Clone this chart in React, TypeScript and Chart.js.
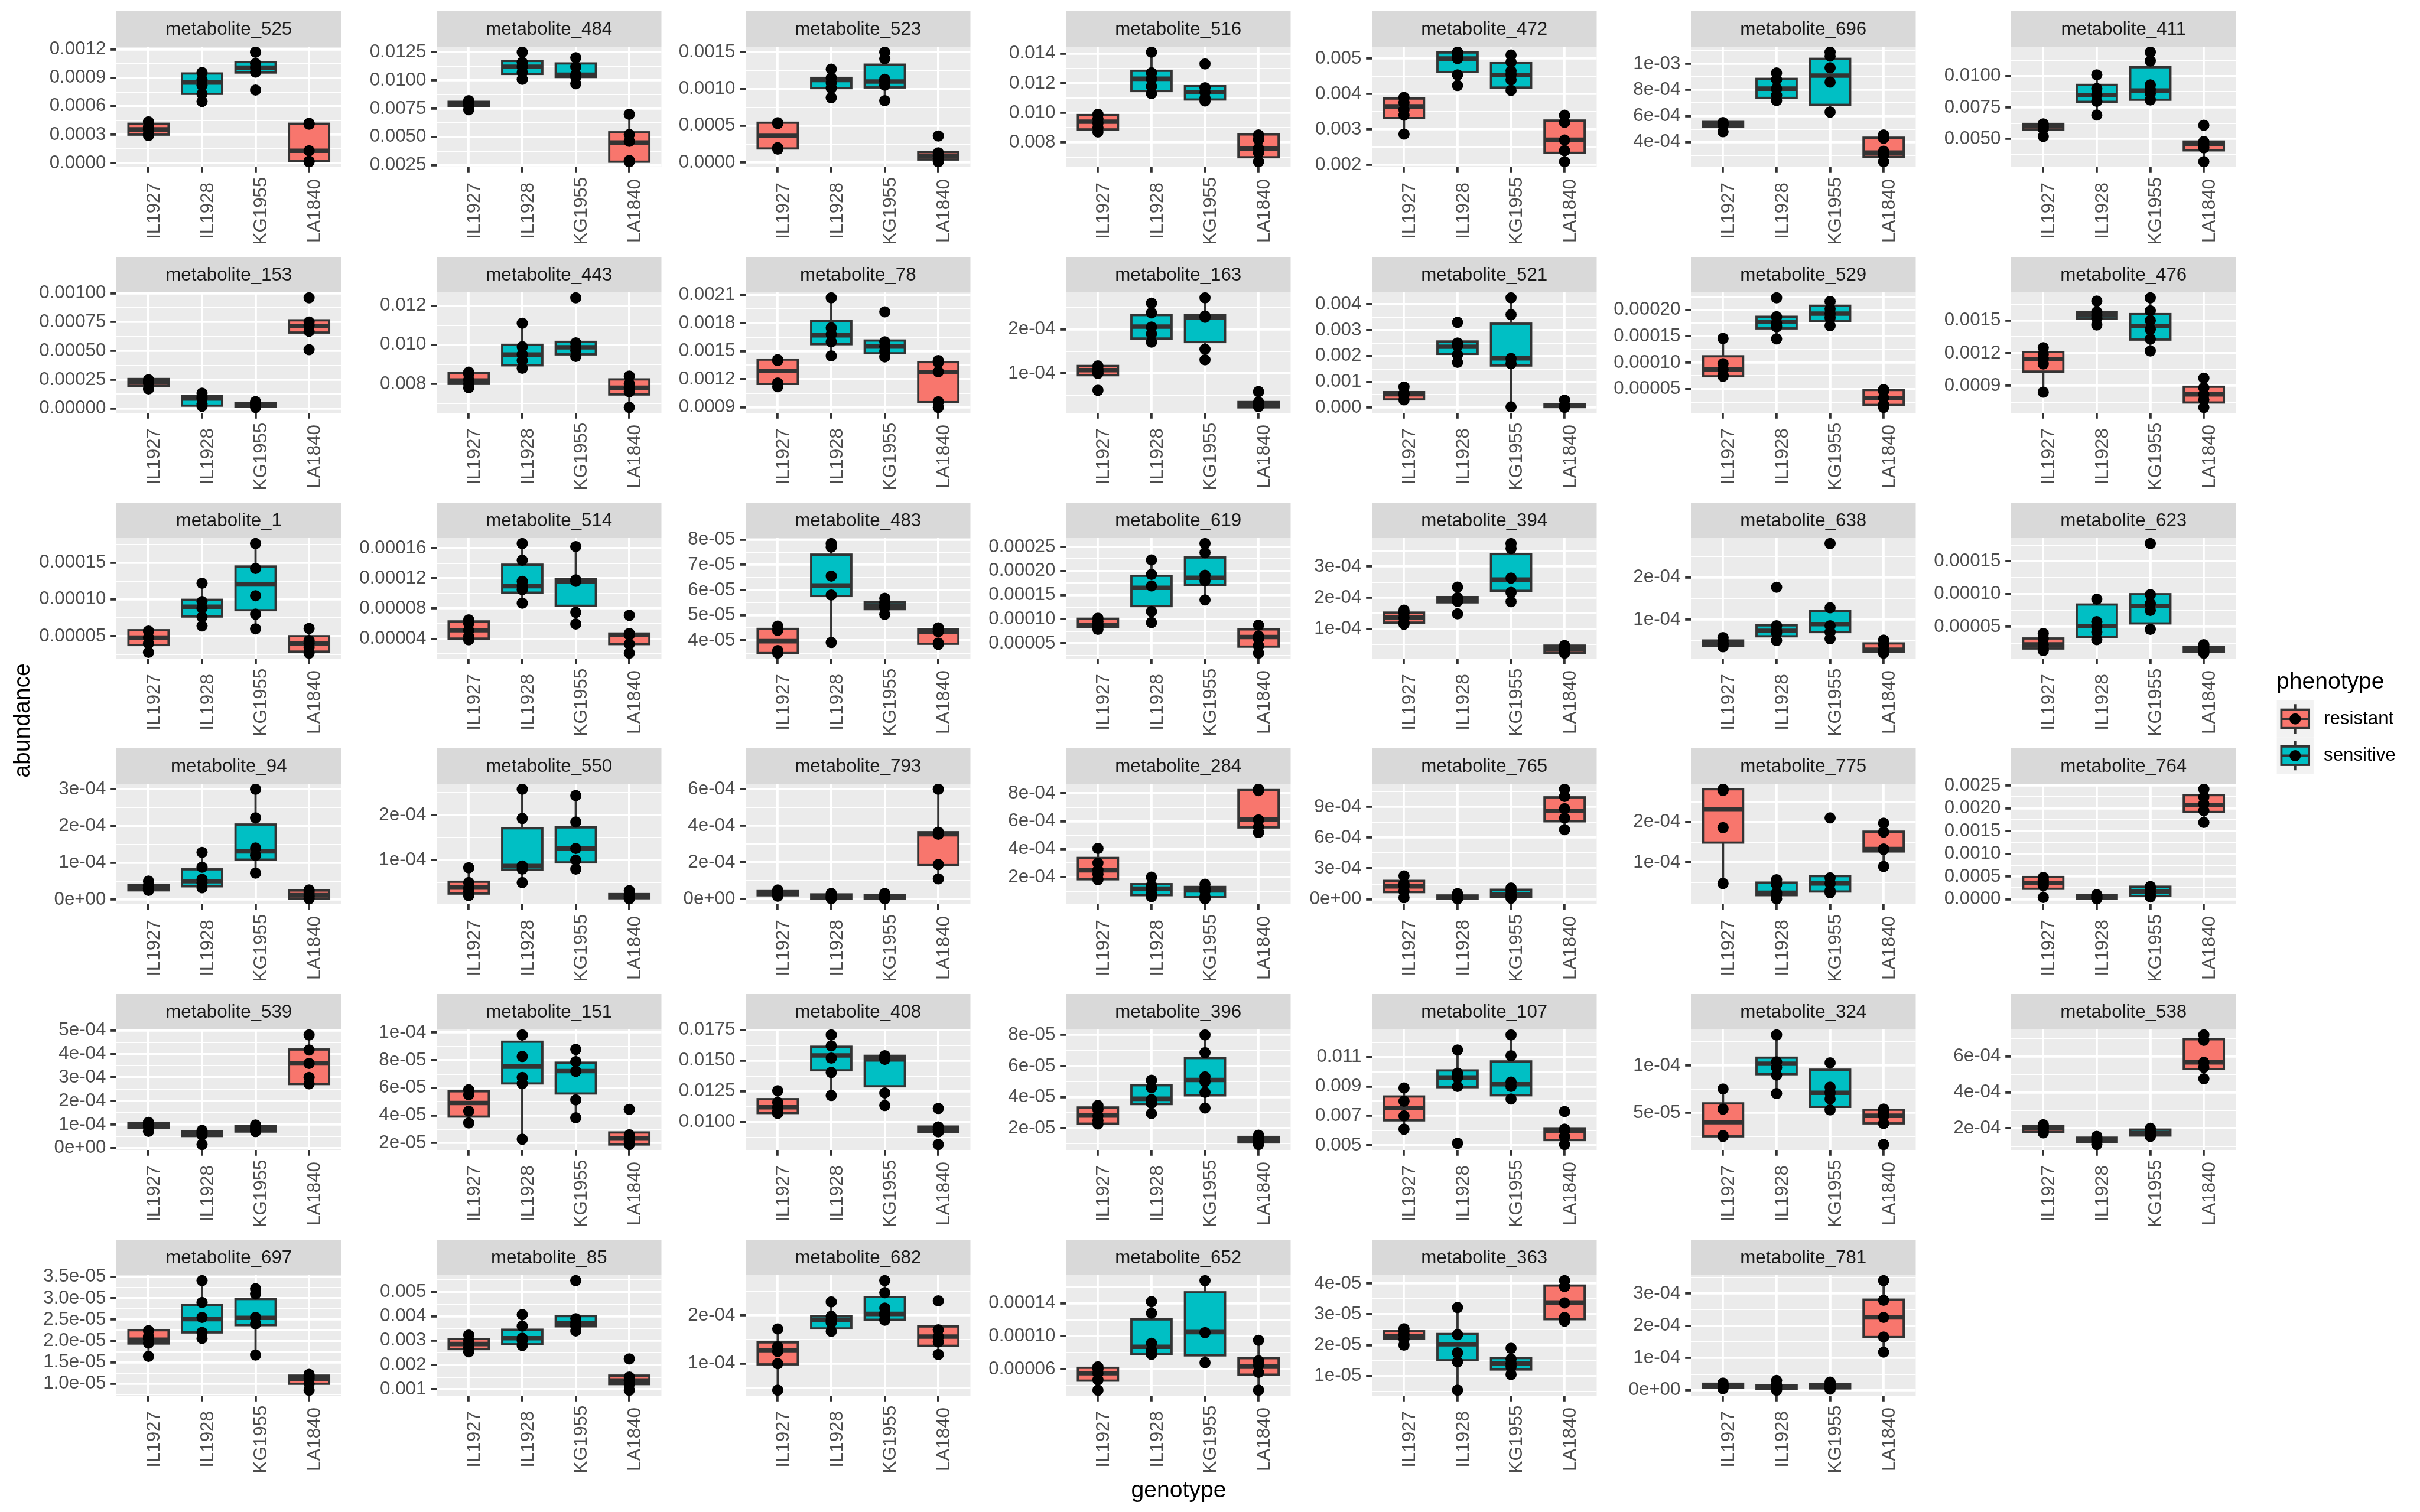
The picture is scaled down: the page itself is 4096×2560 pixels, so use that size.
import React, { useEffect, useRef } from 'react';
import { Chart, registerables } from 'chart.js';
Chart.register(...registerables);

// ---------------- data ----------------
const genotypes = ['IL1927', 'IL1928', 'KG1955', 'LA1840'];
const genotypePhenotype = ['resistant', 'sensitive', 'sensitive', 'resistant'];
const phenotypes = ['resistant', 'sensitive'];
const phenotypeColors = ['#F8766D', '#00BFC4'];

const panelNames = [
  'metabolite_525', 'metabolite_484', 'metabolite_523', 'metabolite_516', 'metabolite_472', 'metabolite_696', 'metabolite_411',
  'metabolite_153', 'metabolite_443', 'metabolite_78', 'metabolite_163', 'metabolite_521', 'metabolite_529', 'metabolite_476',
  'metabolite_1', 'metabolite_514', 'metabolite_483', 'metabolite_619', 'metabolite_394', 'metabolite_638', 'metabolite_623',
  'metabolite_94', 'metabolite_550', 'metabolite_793', 'metabolite_284', 'metabolite_765', 'metabolite_775', 'metabolite_764',
  'metabolite_539', 'metabolite_151', 'metabolite_408', 'metabolite_396', 'metabolite_107', 'metabolite_324', 'metabolite_538',
  'metabolite_697', 'metabolite_85', 'metabolite_682', 'metabolite_652', 'metabolite_363', 'metabolite_781',
];

const tickLabels = [
  ['0.0000', '0.0003', '0.0006', '0.0009', '0.0012'],
  ['0.0025', '0.0050', '0.0075', '0.0100', '0.0125'],
  ['0.0000', '0.0005', '0.0010', '0.0015'],
  ['0.008', '0.010', '0.012', '0.014'],
  ['0.002', '0.003', '0.004', '0.005'],
  ['4e-04', '6e-04', '8e-04', '1e-03'],
  ['0.0050', '0.0075', '0.0100'],
  ['0.00000', '0.00025', '0.00050', '0.00075', '0.00100'],
  ['0.008', '0.010', '0.012'],
  ['0.0009', '0.0012', '0.0015', '0.0018', '0.0021'],
  ['1e-04', '2e-04'],
  ['0.000', '0.001', '0.002', '0.003', '0.004'],
  ['0.00005', '0.00010', '0.00015', '0.00020'],
  ['0.0009', '0.0012', '0.0015'],
  ['0.00005', '0.00010', '0.00015'],
  ['0.00004', '0.00008', '0.00012', '0.00016'],
  ['4e-05', '5e-05', '6e-05', '7e-05', '8e-05'],
  ['0.00005', '0.00010', '0.00015', '0.00020', '0.00025'],
  ['1e-04', '2e-04', '3e-04'],
  ['1e-04', '2e-04'],
  ['0.00005', '0.00010', '0.00015'],
  ['0e+00', '1e-04', '2e-04', '3e-04'],
  ['1e-04', '2e-04'],
  ['0e+00', '2e-04', '4e-04', '6e-04'],
  ['2e-04', '4e-04', '6e-04', '8e-04'],
  ['0e+00', '3e-04', '6e-04', '9e-04'],
  ['1e-04', '2e-04'],
  ['0.0000', '0.0005', '0.0010', '0.0015', '0.0020', '0.0025'],
  ['0e+00', '1e-04', '2e-04', '3e-04', '4e-04', '5e-04'],
  ['2e-05', '4e-05', '6e-05', '8e-05', '1e-04'],
  ['0.0100', '0.0125', '0.0150', '0.0175'],
  ['2e-05', '4e-05', '6e-05', '8e-05'],
  ['0.005', '0.007', '0.009', '0.011'],
  ['5e-05', '1e-04'],
  ['2e-04', '4e-04', '6e-04'],
  ['1.0e-05', '1.5e-05', '2.0e-05', '2.5e-05', '3.0e-05', '3.5e-05'],
  ['0.001', '0.002', '0.003', '0.004', '0.005'],
  ['1e-04', '2e-04'],
  ['0.00006', '0.00010', '0.00014'],
  ['1e-05', '2e-05', '3e-05', '4e-05'],
  ['0e+00', '1e-04', '2e-04', '3e-04'],
];

// [lower whisker, Q1, median, Q3, upper whisker] for IL1927, IL1928, KG1955, LA1840
const boxStats = [
  [[2.9e-4, 3.0e-4, 3.55e-4, 4.15e-4, 4.35e-4], [6.5e-4, 7.3e-4, 8.5e-4, 9.45e-4, 9.55e-4], [9.55e-4, 9.55e-4, 1.006e-3, 1.065e-3, 1.17e-3], [0.15e-4, 0.2e-4, 1.3e-4, 4.15e-4, 4.2e-4]],
  [[0.0074, 0.0077, 0.00785, 0.0081, 0.0082], [0.0101, 0.01057, 0.0112, 0.01172, 0.0125], [0.0097, 0.0103, 0.0105, 0.0115, 0.0120], [0.0028, 0.0028, 0.0045, 0.0054, 0.0070]],
  [[1.8e-4, 1.9e-4, 3.6e-4, 5.4e-4, 5.4e-4], [8.8e-4, 1.01e-3, 1.12e-3, 1.15e-3, 1.27e-3], [8.4e-4, 1.02e-3, 1.10e-3, 1.33e-3, 1.50e-3], [0.1e-4, 0.4e-4, 0.9e-4, 1.4e-4, 1.4e-4]],
  [[0.0087, 0.00888, 0.0094, 0.00985, 0.0099], [0.0113, 0.01147, 0.0123, 0.01284, 0.0141], [0.0108, 0.0109, 0.0114, 0.0118, 0.0118], [0.0067, 0.0070, 0.0076, 0.00854, 0.00854]],
  [[0.00287, 0.00332, 0.00365, 0.00387, 0.0039], [0.00424, 0.00462, 0.0050, 0.00517, 0.00518], [0.0041, 0.00418, 0.00454, 0.00487, 0.0051], [0.00209, 0.00234, 0.00271, 0.00325, 0.0034]],
  [[4.8e-4, 5.2e-4, 5.35e-4, 5.55e-4, 5.55e-4], [7.2e-4, 7.39e-4, 8.1e-4, 8.85e-4, 9.3e-4], [6.3e-4, 6.86e-4, 9.1e-4, 1.039e-3, 1.09e-3], [2.5e-4, 2.88e-4, 3.2e-4, 4.34e-4, 4.55e-4]],
  [[0.0052, 0.00574, 0.0060, 0.0062, 0.0062], [0.0069, 0.00795, 0.0085, 0.0093, 0.0101], [0.0081, 0.00812, 0.00885, 0.0107, 0.0119], [0.0032, 0.0041, 0.0046, 0.0048, 0.0048]],
  [[1.7e-4, 1.96e-4, 2.25e-4, 2.56e-4, 2.6e-4], [0.2e-4, 0.25e-4, 0.87e-4, 1.09e-4, 1.33e-4], [0.1e-4, 0.14e-4, 0.36e-4, 0.5e-4, 0.6e-4], [6.59e-4, 6.59e-4, 7.17e-4, 7.65e-4, 7.65e-4]],
  [[0.0078, 0.0080, 0.00817, 0.00857, 0.0086], [0.0088, 0.00895, 0.0095, 0.0100, 0.0111], [0.0094, 0.00951, 0.00987, 0.01015, 0.0102], [0.0068, 0.00746, 0.0078, 0.00823, 0.0084]],
  [[0.00112, 0.00115, 0.00129, 0.00141, 0.00141], [0.00145, 0.001575, 0.00167, 0.001825, 0.00207], [0.00144, 0.001478, 0.00155, 0.001614, 0.00162], [0.0009, 0.000956, 0.001275, 0.001383, 0.0014]],
  [[0.96e-4, 0.96e-4, 1.075e-4, 1.17e-4, 1.17e-4], [1.71e-4, 1.79e-4, 2.06e-4, 2.32e-4, 2.59e-4], [1.31e-4, 1.71e-4, 2.27e-4, 2.32e-4, 2.71e-4], [0.234e-4, 0.234e-4, 0.29e-4, 0.355e-4, 0.355e-4]],
  [[0.0003, 0.00032, 0.00052, 0.0006, 0.0008], [0.00175, 0.00208, 0.00236, 0.00256, 0.00256], [0.00003, 0.00163, 0.00191, 0.00325, 0.00425], [0.00001, 0.00002, 0.00007, 0.00013, 0.00029]],
  [[7.4e-5, 7.4e-5, 8.7e-5, 11.2e-5, 14.6e-5], [14.5e-5, 16.5e-5, 17.7e-5, 18.7e-5, 18.8e-5], [17.0e-5, 17.85e-5, 19.3e-5, 20.8e-5, 21.6e-5], [1.5e-5, 1.97e-5, 3.3e-5, 4.8e-5, 4.9e-5]],
  [[0.00084, 0.00103, 0.001145, 0.00121, 0.00125], [0.00146, 0.00152, 0.00155, 0.00158, 0.00168], [0.00122, 0.001325, 0.00145, 0.00156, 0.00171], [0.0007, 0.000745, 0.00082, 0.00089, 0.00097]],
  [[2.8e-5, 3.79e-5, 4.81e-5, 5.81e-5, 5.81e-5], [6.4e-5, 7.67e-5, 9.0e-5, 9.95e-5, 12.2e-5], [6.0e-5, 8.53e-5, 12.05e-5, 14.47e-5, 17.6e-5], [2.7e-5, 2.9e-5, 4.0e-5, 5.0e-5, 6.05e-5]],
  [[3.85e-5, 4.02e-5, 5.13e-5, 6.29e-5, 6.5e-5], [8.7e-5, 10.1e-5, 10.95e-5, 13.8e-5, 16.6e-5], [5.95e-5, 8.36e-5, 11.6e-5, 11.9e-5, 16.2e-5], [2.1e-5, 3.29e-5, 4.5e-5, 4.69e-5, 4.69e-5]],
  [[3.5e-5, 3.5e-5, 3.97e-5, 4.46e-5, 4.57e-5], [3.92e-5, 5.76e-5, 6.18e-5, 7.4e-5, 7.84e-5], [5.03e-5, 5.24e-5, 5.38e-5, 5.51e-5, 5.67e-5], [3.85e-5, 3.87e-5, 4.35e-5, 4.45e-5, 4.5e-5]],
  [[7.9e-5, 8.33e-5, 8.82e-5, 10.09e-5, 10.2e-5], [9.3e-5, 12.7e-5, 16.5e-5, 19.0e-5, 22.3e-5], [14.0e-5, 17.1e-5, 18.6e-5, 22.8e-5, 25.7e-5], [2.96e-5, 4.3e-5, 6.3e-5, 7.88e-5, 8.75e-5]],
  [[1.15e-4, 1.2e-4, 1.36e-4, 1.52e-4, 1.6e-4], [1.85e-4, 1.85e-4, 1.94e-4, 2.02e-4, 2.02e-4], [1.87e-4, 2.22e-4, 2.58e-4, 3.4e-4, 3.74e-4], [0.22e-4, 0.23e-4, 0.35e-4, 0.46e-4, 0.46e-4]],
  [[0.35e-4, 0.367e-4, 0.43e-4, 0.5e-4, 0.57e-4], [0.5e-4, 0.6e-4, 0.73e-4, 0.86e-4, 0.86e-4], [0.54e-4, 0.7e-4, 0.89e-4, 1.2e-4, 1.28e-4], [0.2e-4, 0.23e-4, 0.28e-4, 0.43e-4, 0.51e-4]],
  [[1.35e-5, 1.68e-5, 2.3e-5, 3.21e-5, 3.98e-5], [3.04e-5, 3.42e-5, 5.1e-5, 8.39e-5, 9.2e-5], [4.6e-5, 5.51e-5, 8.19e-5, 9.97e-5, 9.97e-5], [0.98e-5, 1.17e-5, 1.56e-5, 1.89e-5, 2.27e-5]],
  [[0.25e-4, 0.25e-4, 0.32e-4, 0.39e-4, 0.5e-4], [0.32e-4, 0.36e-4, 0.5e-4, 0.82e-4, 1.28e-4], [0.72e-4, 1.085e-4, 1.31e-4, 2.04e-4, 3.0e-4], [0.02e-4, 0.03e-4, 0.12e-4, 0.246e-4, 0.26e-4]],
  [[0.21e-4, 0.256e-4, 0.39e-4, 0.52e-4, 0.83e-4], [0.5e-4, 0.79e-4, 0.87e-4, 1.71e-4, 2.58e-4], [0.8e-4, 0.95e-4, 1.26e-4, 1.73e-4, 2.44e-4], [0.14e-4, 0.152e-4, 0.2e-4, 0.245e-4, 0.32e-4]],
  [[0.15e-4, 0.2e-4, 0.31e-4, 0.43e-4, 0.49e-4], [0.02e-4, 0.02e-4, 0.13e-4, 0.25e-4, 0.3e-4], [0.01e-4, 0.01e-4, 0.08e-4, 0.2e-4, 0.3e-4], [1.1e-4, 1.85e-4, 3.54e-4, 3.65e-4, 6.0e-4]],
  [[1.82e-4, 1.84e-4, 2.49e-4, 3.37e-4, 4.05e-4], [0.6e-4, 0.7e-4, 1.17e-4, 1.49e-4, 2.0e-4], [0.44e-4, 0.56e-4, 1.05e-4, 1.29e-4, 1.49e-4], [5.2e-4, 5.56e-4, 6.12e-4, 8.24e-4, 8.3e-4]],
  [[0.16e-4, 0.7e-4, 1.26e-4, 1.79e-4, 2.28e-4], [0.05e-4, 0.05e-4, 0.2e-4, 0.375e-4, 0.55e-4], [0.1e-4, 0.21e-4, 0.49e-4, 0.93e-4, 1.1e-4], [6.77e-4, 7.58e-4, 8.59e-4, 9.91e-4, 10.7e-4]],
  [[0.48e-4, 1.49e-4, 2.32e-4, 2.81e-4, 2.81e-4], [0.1e-4, 0.19e-4, 0.25e-4, 0.5e-4, 0.57e-4], [0.25e-4, 0.28e-4, 0.48e-4, 0.66e-4, 0.66e-4], [0.9e-4, 1.27e-4, 1.33e-4, 1.76e-4, 1.97e-4]],
  [[0.00004, 0.00023, 0.00036, 0.00049, 0.00049], [0.00001, 0.00001, 0.00005, 0.00009, 0.0001], [0.00005, 0.00007, 0.00017, 0.000276, 0.00028], [0.00169, 0.00192, 0.00207, 0.00229, 0.00242]],
  [[0.71e-4, 0.85e-4, 0.96e-4, 1.07e-4, 1.09e-4], [0.51e-4, 0.51e-4, 0.62e-4, 0.71e-4, 0.75e-4], [0.7e-4, 0.7e-4, 0.82e-4, 0.94e-4, 0.98e-4], [2.72e-4, 2.72e-4, 3.6e-4, 4.19e-4, 4.81e-4]],
  [[3.46e-5, 3.92e-5, 4.9e-5, 5.75e-5, 5.86e-5], [2.28e-5, 6.32e-5, 7.54e-5, 9.34e-5, 9.83e-5], [3.83e-5, 5.59e-5, 7.21e-5, 7.82e-5, 8.78e-5], [1.9e-5, 1.9e-5, 2.33e-5, 2.77e-5, 2.77e-5]],
  [[0.0107, 0.01073, 0.0112, 0.01186, 0.01255], [0.01216, 0.01421, 0.01542, 0.01613, 0.01709], [0.01134, 0.01291, 0.0151, 0.01539, 0.0154], [0.00919, 0.00919, 0.00943, 0.00963, 0.00963]],
  [[2.27e-5, 2.29e-5, 2.81e-5, 3.33e-5, 3.46e-5], [2.94e-5, 3.55e-5, 3.89e-5, 4.76e-5, 5.08e-5], [3.3e-5, 4.11e-5, 5.1e-5, 6.51e-5, 8.0e-5], [0.95e-5, 1.08e-5, 1.26e-5, 1.44e-5, 1.55e-5]],
  [[0.0061, 0.0067, 0.00753, 0.00832, 0.0089], [0.0089, 0.00895, 0.00961, 0.01009, 0.01148], [0.00815, 0.0084, 0.00915, 0.0107, 0.0125], [0.00506, 0.00536, 0.00599, 0.00616, 0.00616]],
  [[2.53e-5, 2.53e-5, 4.02e-5, 6.01e-5, 7.54e-5], [7.05e-5, 9.09e-5, 10.2e-5, 10.84e-5, 13.24e-5], [5.32e-5, 5.64e-5, 7.13e-5, 9.57e-5, 10.3e-5], [3.9e-5, 3.9e-5, 4.7e-5, 5.34e-5, 5.41e-5]],
  [[1.75e-4, 1.8e-4, 2.0e-4, 2.14e-4, 2.2e-4], [1.1e-4, 1.25e-4, 1.36e-4, 1.48e-4, 1.55e-4], [1.55e-4, 1.6e-4, 1.74e-4, 1.93e-4, 2.0e-4], [4.76e-4, 5.3e-4, 5.67e-4, 6.96e-4, 7.2e-4]],
  [[1.64e-5, 1.94e-5, 2.03e-5, 2.25e-5, 2.25e-5], [2.06e-5, 2.2e-5, 2.51e-5, 2.84e-5, 3.41e-5], [1.67e-5, 2.37e-5, 2.54e-5, 2.98e-5, 3.22e-5], [0.85e-5, 1.0e-5, 1.12e-5, 1.19e-5, 1.22e-5]],
  [[0.00254, 0.00265, 0.00286, 0.00307, 0.00323], [0.0028, 0.00285, 0.0031, 0.00345, 0.00407], [0.0034, 0.00359, 0.00373, 0.00401, 0.00401], [0.00096, 0.00121, 0.00136, 0.00156, 0.00156]],
  [[0.45e-4, 0.985e-4, 1.28e-4, 1.44e-4, 1.72e-4], [1.67e-4, 1.73e-4, 1.9e-4, 1.98e-4, 2.28e-4], [1.9e-4, 1.91e-4, 2.03e-4, 2.38e-4, 2.72e-4], [1.19e-4, 1.37e-4, 1.56e-4, 1.77e-4, 1.77e-4]],
  [[3.44e-5, 4.6e-5, 5.5e-5, 6.16e-5, 6.27e-5], [7.8e-5, 7.8e-5, 8.71e-5, 12.04e-5, 14.2e-5], [6.8e-5, 7.67e-5, 10.5e-5, 15.33e-5, 16.75e-5], [3.44e-5, 5.33e-5, 6.3e-5, 7.33e-5, 9.5e-5]],
  [[2.0e-5, 2.2e-5, 2.3e-5, 2.45e-5, 2.53e-5], [0.54e-5, 1.51e-5, 2.03e-5, 2.36e-5, 3.22e-5], [1.05e-5, 1.21e-5, 1.4e-5, 1.58e-5, 1.9e-5], [2.78e-5, 2.84e-5, 3.38e-5, 3.93e-5, 4.09e-5]],
  [[0.05e-4, 0.07e-4, 0.14e-4, 0.2e-4, 0.22e-4], [0.0, 0.03e-4, 0.1e-4, 0.15e-4, 0.3e-4], [0.03e-4, 0.055e-4, 0.125e-4, 0.18e-4, 0.25e-4], [1.18e-4, 1.65e-4, 2.26e-4, 2.81e-4, 3.4e-4]],
];

// individual observations for IL1927, IL1928, KG1955, LA1840
const pointValues = [
  [[2.9e-4, 3.05e-4, 3.55e-4, 3.8e-4, 4.35e-4], [6.5e-4, 7.3e-4, 8.2e-4, 8.8e-4, 9.55e-4], [7.7e-4, 9.6e-4, 1.01e-3, 1.05e-3, 1.17e-3], [0.15e-4, 0.2e-4, 1.3e-4, 4.1e-4, 4.2e-4]],
  [[0.0074, 0.0078, 0.00785, 0.0081, 0.0082], [0.0101, 0.0107, 0.0112, 0.0116, 0.0125], [0.0097, 0.0103, 0.0105, 0.0112, 0.0120], [0.0028, 0.0029, 0.0046, 0.0052, 0.0070]],
  [[1.8e-4, 2.0e-4, 5.3e-4, 5.4e-4], [8.8e-4, 1.01e-3, 1.08e-3, 1.15e-3, 1.27e-3], [8.4e-4, 1.05e-3, 1.10e-3, 1.13e-3, 1.41e-3, 1.50e-3], [0.1e-4, 0.5e-4, 0.9e-4, 1.3e-4, 3.6e-4]],
  [[0.0087, 0.0090, 0.0093, 0.0096, 0.0099], [0.0113, 0.0118, 0.0123, 0.0127, 0.0141], [0.0108, 0.0110, 0.0114, 0.0117, 0.0133], [0.0067, 0.0073, 0.0076, 0.0082, 0.0085]],
  [[0.00287, 0.0034, 0.00355, 0.00375, 0.0039], [0.00424, 0.00454, 0.0050, 0.0051, 0.00518], [0.0041, 0.0044, 0.00455, 0.00465, 0.0049, 0.0051], [0.00209, 0.0024, 0.0027, 0.0032, 0.0034]],
  [[4.8e-4, 5.3e-4, 5.4e-4, 5.5e-4], [7.2e-4, 7.6e-4, 8.1e-4, 8.8e-4, 9.3e-4], [6.3e-4, 8.6e-4, 9.7e-4, 1.06e-3, 1.09e-3], [2.5e-4, 3.0e-4, 3.3e-4, 4.3e-4, 4.55e-4]],
  [[0.0052, 0.0058, 0.0060, 0.0062], [0.0069, 0.0080, 0.0085, 0.0090, 0.0101], [0.0081, 0.0086, 0.0089, 0.0093, 0.0112, 0.0119], [0.0032, 0.0043, 0.0046, 0.0048, 0.0061]],
  [[1.7e-4, 2.2e-4, 2.3e-4, 2.5e-4], [0.2e-4, 0.4e-4, 0.85e-4, 1.0e-4, 1.33e-4], [0.1e-4, 0.3e-4, 0.4e-4, 0.5e-4, 0.6e-4], [5.1e-4, 6.7e-4, 7.2e-4, 7.5e-4, 9.6e-4]],
  [[0.0078, 0.0080, 0.0082, 0.0085, 0.0086], [0.0088, 0.0092, 0.0095, 0.0099, 0.0111], [0.0094, 0.0097, 0.0099, 0.0101, 0.0124], [0.0068, 0.0076, 0.0078, 0.0080, 0.0084]],
  [[0.00112, 0.00116, 0.0014, 0.00141], [0.00145, 0.0016, 0.00168, 0.00175, 0.00207], [0.00144, 0.0015, 0.00155, 0.0016, 0.00192], [0.0009, 0.00096, 0.00128, 0.00138, 0.0014]],
  [[0.62e-4, 1.0e-4, 1.05e-4, 1.1e-4, 1.17e-4], [1.71e-4, 1.9e-4, 2.05e-4, 2.37e-4, 2.59e-4], [1.31e-4, 1.55e-4, 2.27e-4, 2.3e-4, 2.71e-4], [0.25e-4, 0.28e-4, 0.3e-4, 0.35e-4, 0.59e-4]],
  [[0.0003, 0.0005, 0.00055, 0.0008], [0.00175, 0.00205, 0.0024, 0.0025, 0.0033], [0.00003, 0.0017, 0.0019, 0.0036, 0.00425], [0.00001, 0.00005, 0.00008, 0.00029]],
  [[7.4e-5, 7.6e-5, 8.7e-5, 9.8e-5, 14.6e-5], [14.5e-5, 16.8e-5, 17.5e-5, 18.7e-5, 22.3e-5], [17.0e-5, 18.5e-5, 19.3e-5, 20.2e-5, 21.6e-5], [1.5e-5, 2.0e-5, 3.3e-5, 4.6e-5, 4.9e-5]],
  [[0.00084, 0.0011, 0.00115, 0.00119, 0.00125], [0.00146, 0.00152, 0.00155, 0.00158, 0.00168], [0.00122, 0.00133, 0.00142, 0.0015, 0.00159, 0.00171], [0.0007, 0.00077, 0.00082, 0.00088, 0.00097]],
  [[2.8e-5, 4.0e-5, 4.8e-5, 5.7e-5], [6.4e-5, 7.6e-5, 8.8e-5, 9.7e-5, 12.2e-5], [6.0e-5, 8.0e-5, 10.5e-5, 14.2e-5, 17.6e-5], [2.7e-5, 3.5e-5, 4.0e-5, 4.4e-5, 6.05e-5]],
  [[3.85e-5, 4.3e-5, 5.1e-5, 6.0e-5, 6.5e-5], [8.7e-5, 10.5e-5, 11.0e-5, 11.6e-5, 14.4e-5, 16.6e-5], [5.95e-5, 7.5e-5, 11.6e-5, 11.8e-5, 16.2e-5], [2.1e-5, 3.3e-5, 4.5e-5, 4.7e-5, 7.1e-5]],
  [[3.5e-5, 3.6e-5, 4.4e-5, 4.57e-5], [3.92e-5, 5.8e-5, 6.55e-5, 7.7e-5, 7.84e-5], [5.03e-5, 5.3e-5, 5.38e-5, 5.5e-5, 5.67e-5], [3.85e-5, 3.9e-5, 4.35e-5, 4.45e-5, 4.5e-5]],
  [[7.9e-5, 8.5e-5, 8.8e-5, 9.5e-5, 10.2e-5], [9.3e-5, 11.6e-5, 16.9e-5, 19.3e-5, 22.3e-5], [14.0e-5, 18.0e-5, 19.1e-5, 23.8e-5, 25.7e-5], [2.96e-5, 4.5e-5, 6.0e-5, 6.5e-5, 8.75e-5]],
  [[1.15e-4, 1.2e-4, 1.36e-4, 1.5e-4, 1.6e-4], [1.48e-4, 1.88e-4, 1.94e-4, 2.0e-4, 2.34e-4], [1.87e-4, 2.17e-4, 2.63e-4, 3.58e-4, 3.74e-4], [0.22e-4, 0.3e-4, 0.35e-4, 0.4e-4, 0.46e-4]],
  [[0.35e-4, 0.4e-4, 0.43e-4, 0.5e-4, 0.57e-4], [0.5e-4, 0.68e-4, 0.73e-4, 0.85e-4, 1.77e-4], [0.54e-4, 0.7e-4, 0.85e-4, 1.28e-4, 2.81e-4], [0.2e-4, 0.25e-4, 0.28e-4, 0.4e-4, 0.51e-4]],
  [[1.35e-5, 1.7e-5, 2.3e-5, 3.2e-5, 3.98e-5], [3.04e-5, 4.2e-5, 5.1e-5, 5.77e-5, 9.2e-5], [4.6e-5, 7.5e-5, 8.5e-5, 9.9e-5, 17.7e-5], [0.98e-5, 1.2e-5, 1.5e-5, 1.9e-5, 2.27e-5]],
  [[0.25e-4, 0.3e-4, 0.32e-4, 0.38e-4, 0.5e-4], [0.32e-4, 0.45e-4, 0.55e-4, 0.88e-4, 1.28e-4], [0.72e-4, 1.2e-4, 1.4e-4, 2.22e-4, 3.0e-4], [0.02e-4, 0.08e-4, 0.12e-4, 0.2e-4, 0.26e-4]],
  [[0.21e-4, 0.3e-4, 0.38e-4, 0.5e-4, 0.83e-4], [0.5e-4, 0.8e-4, 0.87e-4, 1.93e-4, 2.58e-4], [0.8e-4, 1.0e-4, 1.26e-4, 1.85e-4, 2.44e-4], [0.14e-4, 0.16e-4, 0.2e-4, 0.24e-4, 0.32e-4]],
  [[0.15e-4, 0.25e-4, 0.31e-4, 0.4e-4, 0.49e-4], [0.02e-4, 0.08e-4, 0.13e-4, 0.2e-4, 0.3e-4], [0.01e-4, 0.05e-4, 0.08e-4, 0.2e-4, 0.3e-4], [1.1e-4, 1.88e-4, 3.54e-4, 3.65e-4, 6.0e-4]],
  [[1.82e-4, 2.2e-4, 2.5e-4, 3.0e-4, 4.05e-4], [0.6e-4, 0.8e-4, 1.15e-4, 1.4e-4, 2.0e-4], [0.44e-4, 0.6e-4, 1.0e-4, 1.2e-4, 1.49e-4], [5.2e-4, 5.6e-4, 6.1e-4, 8.2e-4, 8.3e-4]],
  [[0.16e-4, 0.8e-4, 1.25e-4, 1.5e-4, 2.28e-4], [0.05e-4, 0.1e-4, 0.2e-4, 0.3e-4, 0.55e-4], [0.1e-4, 0.3e-4, 0.5e-4, 0.8e-4, 1.1e-4], [6.77e-4, 7.9e-4, 8.8e-4, 10.0e-4, 10.7e-4]],
  [[0.48e-4, 1.86e-4, 2.78e-4, 2.81e-4], [0.1e-4, 0.2e-4, 0.25e-4, 0.45e-4, 0.57e-4], [0.25e-4, 0.3e-4, 0.48e-4, 0.62e-4, 2.1e-4], [0.9e-4, 1.32e-4, 1.33e-4, 1.75e-4, 1.97e-4]],
  [[0.00004, 0.0003, 0.00036, 0.00042, 0.00048], [0.00001, 0.00003, 0.00005, 0.00008, 0.0001], [0.00005, 0.0001, 0.00017, 0.00024, 0.00028], [0.00169, 0.00195, 0.0021, 0.00225, 0.00242]],
  [[0.71e-4, 0.9e-4, 0.96e-4, 1.0e-4, 1.09e-4], [0.15e-4, 0.55e-4, 0.62e-4, 0.68e-4, 0.75e-4], [0.7e-4, 0.75e-4, 0.82e-4, 0.9e-4, 0.98e-4], [2.73e-4, 3.0e-4, 3.6e-4, 4.17e-4, 4.81e-4]],
  [[3.46e-5, 4.31e-5, 5.5e-5, 5.86e-5], [2.28e-5, 6.3e-5, 6.75e-5, 8.27e-5, 9.83e-5], [3.83e-5, 5.13e-5, 7.2e-5, 7.9e-5, 8.78e-5], [1.9e-5, 2.1e-5, 2.33e-5, 2.6e-5, 4.44e-5]],
  [[0.0107, 0.0109, 0.0112, 0.0116, 0.01255], [0.01216, 0.01404, 0.0152, 0.0162, 0.01709], [0.01134, 0.01237, 0.0151, 0.0152, 0.0154], [0.00817, 0.0092, 0.0094, 0.0096, 0.0111]],
  [[2.27e-5, 2.5e-5, 2.8e-5, 3.2e-5, 3.46e-5], [2.94e-5, 3.6e-5, 3.84e-5, 4.6e-5, 5.08e-5], [3.3e-5, 4.3e-5, 5.0e-5, 5.3e-5, 6.86e-5, 8.0e-5], [0.95e-5, 1.1e-5, 1.26e-5, 1.4e-5, 1.55e-5]],
  [[0.0061, 0.0070, 0.0080, 0.0089], [0.00514, 0.0090, 0.0096, 0.0099, 0.01148], [0.00815, 0.0090, 0.0093, 0.01109, 0.0125], [0.00506, 0.0056, 0.0060, 0.0061, 0.0073]],
  [[2.53e-5, 2.6e-5, 5.41e-5, 7.54e-5], [7.05e-5, 9.0e-5, 9.8e-5, 10.4e-5, 13.24e-5], [5.32e-5, 6.48e-5, 7.13e-5, 7.72e-5, 10.3e-5], [1.67e-5, 3.9e-5, 4.7e-5, 5.0e-5, 5.41e-5]],
  [[1.75e-4, 1.85e-4, 2.0e-4, 2.1e-4, 2.2e-4], [1.1e-4, 1.25e-4, 1.36e-4, 1.45e-4, 1.55e-4], [1.55e-4, 1.65e-4, 1.75e-4, 1.85e-4, 2.0e-4], [4.76e-4, 5.4e-4, 5.67e-4, 6.9e-4, 7.2e-4]],
  [[1.64e-5, 1.95e-5, 2.05e-5, 2.1e-5, 2.24e-5], [2.06e-5, 2.2e-5, 2.55e-5, 2.9e-5, 3.41e-5], [1.67e-5, 2.4e-5, 2.55e-5, 3.1e-5, 3.22e-5], [0.85e-5, 1.0e-5, 1.12e-5, 1.18e-5, 1.22e-5]],
  [[0.00254, 0.0027, 0.00286, 0.003, 0.00323], [0.0028, 0.003, 0.0031, 0.0036, 0.00407], [0.0034, 0.0036, 0.00373, 0.0039, 0.00547], [0.00096, 0.0012, 0.00136, 0.0015, 0.00225]],
  [[0.45e-4, 1.0e-4, 1.25e-4, 1.35e-4, 1.72e-4], [1.67e-4, 1.85e-4, 1.9e-4, 1.98e-4, 2.28e-4], [1.9e-4, 2.0e-4, 2.05e-4, 2.15e-4, 2.47e-4, 2.72e-4], [1.19e-4, 1.45e-4, 1.56e-4, 1.7e-4, 2.3e-4]],
  [[3.44e-5, 4.7e-5, 5.5e-5, 6.0e-5, 6.27e-5], [7.8e-5, 8.3e-5, 9.15e-5, 12.8e-5, 14.2e-5], [6.8e-5, 10.44e-5, 16.75e-5], [3.44e-5, 5.6e-5, 6.5e-5, 7.0e-5, 9.5e-5]],
  [[2.0e-5, 2.2e-5, 2.33e-5, 2.45e-5, 2.53e-5], [0.54e-5, 1.46e-5, 1.75e-5, 2.34e-5, 3.22e-5], [1.05e-5, 1.3e-5, 1.4e-5, 1.55e-5, 1.9e-5], [2.78e-5, 2.9e-5, 3.37e-5, 3.9e-5, 4.09e-5]],
  [[0.05e-4, 0.1e-4, 0.14e-4, 0.18e-4, 0.22e-4], [0.0, 0.05e-4, 0.1e-4, 0.15e-4, 0.3e-4], [0.03e-4, 0.06e-4, 0.12e-4, 0.18e-4, 0.25e-4], [1.18e-4, 1.65e-4, 2.26e-4, 2.79e-4, 3.4e-4]],
];

// ---------------- layout / style ----------------
const FONT = '"Liberation Sans", Arial, Helvetica, sans-serif';
const colLeft = [197, 739, 1262, 1804, 2322, 2862, 3404];
const rowTop = [19, 435, 851, 1267, 1683, 2099];
const PW = 390, PH = 204, STRIP = 60, AX = 150, XH = 150;
const TICK_FS = 31.3, TITLE_FS = 39.1;
const LINE = 3.8;

function colorFor(gi: number) {
  return phenotypeColors[phenotypes.indexOf(genotypePhenotype[gi])];
}

function Panel({ p }: { p: number }) {
  const ref = useRef<HTMLCanvasElement>(null);
  const col = p % 7, row = Math.floor(p / 7);
  const W = AX + PW, H = STRIP + PH + XH;
  useEffect(() => {
    const canvas = ref.current;
    if (!canvas) return;
    const all = [...boxStats[p].flat(), ...pointValues[p].flat()];
    const lo = Math.min(...all), hi = Math.max(...all);
    const pad = (hi - lo) * 0.05;
    const ymin = lo - pad, ymax = hi + pad;
    const majors = tickLabels[p].map(Number);
    const step = majors[1] - majors[0];
    const yt: any[] = majors.map((v, i) => ({ value: v, lab: tickLabels[p][i] }));
    for (let k = -1; k < majors.length; k++) {
      yt.push({ value: majors[0] + (k + 0.5) * step, minor: true });
    }
    const yTicks = yt.filter(t => t.value >= ymin && t.value <= ymax).sort((a, b) => a.value - b.value);

    const data: { x: number; y: number }[] = [];
    pointValues[p].forEach((vals, gi) => vals.forEach(v => data.push({ x: gi + 1, y: v })));

    const panelPlugin = {
      id: 'panelDeco' + p,
      beforeDraw(chart: any) {
        const { ctx, chartArea: a } = chart;
        ctx.save();
        ctx.fillStyle = '#EBEBEB';
        ctx.fillRect(a.left, a.top, a.right - a.left, a.bottom - a.top);
        ctx.fillStyle = '#D9D9D9';
        ctx.fillRect(a.left, a.top - STRIP, a.right - a.left, STRIP);
        ctx.fillStyle = '#1A1A1A';
        ctx.font = `${TICK_FS}px ${FONT}`;
        ctx.textAlign = 'center';
        ctx.textBaseline = 'middle';
        ctx.fillText(panelNames[p], (a.left + a.right) / 2, a.top - STRIP / 2 + 1);
        ctx.restore();
      },
      beforeDatasetsDraw(chart: any) {
        const { ctx } = chart;
        const xs = chart.scales.x, ys = chart.scales.y;
        ctx.save();
        boxStats[p].forEach((b, gi) => {
          const cx = xs.getPixelForValue(gi + 1);
          const hw = xs.getPixelForValue(gi + 1 + 0.375) - cx;
          const [pl, pq1, pm, pq3, ph] = b.map(v => ys.getPixelForValue(v));
          ctx.strokeStyle = '#333333';
          ctx.lineWidth = LINE;
          ctx.beginPath();
          ctx.moveTo(cx, pl); ctx.lineTo(cx, pq1);
          ctx.moveTo(cx, pq3); ctx.lineTo(cx, ph);
          ctx.stroke();
          ctx.fillStyle = colorFor(gi);
          ctx.fillRect(cx - hw, pq3, 2 * hw, pq1 - pq3);
          ctx.strokeRect(cx - hw, pq3, 2 * hw, pq1 - pq3);
          ctx.lineWidth = LINE * 2;
          ctx.beginPath();
          ctx.moveTo(cx - hw, pm); ctx.lineTo(cx + hw, pm);
          ctx.stroke();
        });
        ctx.restore();
      },
      afterDraw(chart: any) {
        const { ctx, chartArea: a } = chart;
        const xs = chart.scales.x;
        ctx.save();
        ctx.font = `${TICK_FS}px ${FONT}`;
        ctx.fillStyle = '#4D4D4D';
        ctx.textAlign = 'center';
        ctx.textBaseline = 'middle';
        genotypes.forEach((g, gi) => {
          const x = xs.getPixelForValue(gi + 1) + 10;
          ctx.save();
          ctx.translate(x, a.bottom + 74);
          ctx.rotate(-Math.PI / 2);
          ctx.fillText(g, 0, 0);
          ctx.restore();
        });
        ctx.restore();
      },
    };

    const chart = new Chart(canvas, {
      type: 'scatter',
      data: {
        datasets: [{
          data,
          pointRadius: 9.5,
          pointHoverRadius: 9.5,
          pointBackgroundColor: '#000000',
          pointBorderWidth: 0,
          clip: 0,
        } as any],
      },
      options: {
        responsive: false,
        maintainAspectRatio: false,
        animation: false,
        events: [],
        devicePixelRatio: 1,
        layout: { padding: { top: STRIP, left: 0, right: 0, bottom: 0 } },
        plugins: { legend: { display: false }, tooltip: { enabled: false }, title: { display: false } },
        scales: {
          x: {
            type: 'linear', position: 'bottom', min: 0.4, max: 4.6,
            afterBuildTicks: (s: any) => { s.ticks = [1, 2, 3, 4].map(v => ({ value: v })); },
            afterFit: (s: any) => { s.height = XH; },
            ticks: { display: false },
            grid: { color: '#FFFFFF', lineWidth: LINE, drawTicks: true, tickLength: 9.8, tickColor: '#333333', tickWidth: LINE },
            border: { display: false },
          },
          y: {
            type: 'linear', position: 'left', min: ymin, max: ymax,
            afterBuildTicks: (s: any) => { s.ticks = yTicks.map(t => ({ ...t })); },
            afterFit: (s: any) => { s.width = AX; },
            ticks: {
              autoSkip: false, padding: 7.8, color: '#4D4D4D',
              font: { family: FONT, size: TICK_FS },
              callback: (_v: any, i: number, arr: any[]) => (arr[i] && arr[i].lab) || '',
            },
            grid: {
              color: '#FFFFFF',
              lineWidth: (c: any) => (c.tick && c.tick.minor ? LINE / 2 : LINE),
              drawTicks: true, tickLength: 9.8,
              tickColor: (c: any) => (c.tick && c.tick.minor ? 'rgba(0,0,0,0)' : '#333333'),
              tickWidth: LINE,
            },
            border: { display: false },
          },
        },
      } as any,
      plugins: [panelPlugin],
    });
    return () => chart.destroy();
  }, [p]);
  return (
    <canvas
      ref={ref}
      width={W}
      height={H}
      style={{ position: 'absolute', left: colLeft[col] - AX, top: rowTop[row], width: W, height: H }}
    />
  );
}

function Overlay() {
  const ref = useRef<HTMLCanvasElement>(null);
  useEffect(() => {
    const c = ref.current;
    if (!c) return;
    const ctx = c.getContext('2d');
    if (!ctx) return;
    ctx.clearRect(0, 0, c.width, c.height);
    ctx.fillStyle = '#000000';
    ctx.font = `${TITLE_FS}px ${FONT}`;
    // y title
    ctx.save();
    ctx.translate(49.5, 1220);
    ctx.rotate(-Math.PI / 2);
    ctx.textAlign = 'center';
    ctx.textBaseline = 'alphabetic';
    ctx.fillText('abundance', 0, 0);
    ctx.restore();
    // x title
    ctx.textAlign = 'center';
    ctx.textBaseline = 'alphabetic';
    ctx.fillText('genotype', 1995, 2535);
    // legend
    ctx.textAlign = 'left';
    ctx.fillText('phenotype', 3853, 1166);
    const kx = 3853.6, ks = 62.3;
    phenotypes.forEach((ph, k) => {
      const ky = 1186 + k * ks;
      ctx.fillStyle = '#F2F2F2';
      ctx.fillRect(kx, ky, ks, ks);
      ctx.strokeStyle = '#333333';
      ctx.lineWidth = LINE;
      const cx = kx + ks / 2;
      ctx.beginPath();
      ctx.moveTo(cx, ky + 0.1 * ks); ctx.lineTo(cx, ky + 0.25 * ks);
      ctx.moveTo(cx, ky + 0.75 * ks); ctx.lineTo(cx, ky + 0.9 * ks);
      ctx.stroke();
      ctx.fillStyle = phenotypeColors[k];
      ctx.fillRect(kx + 0.125 * ks, ky + 0.25 * ks, 0.75 * ks, 0.5 * ks);
      ctx.strokeRect(kx + 0.125 * ks, ky + 0.25 * ks, 0.75 * ks, 0.5 * ks);
      ctx.beginPath();
      ctx.moveTo(kx + 0.125 * ks, ky + 0.5 * ks); ctx.lineTo(kx + 0.875 * ks, ky + 0.5 * ks);
      ctx.stroke();
      ctx.fillStyle = '#000000';
      ctx.beginPath();
      ctx.arc(cx, ky + ks / 2, 9.5, 0, Math.PI * 2);
      ctx.fill();
      ctx.font = `${TICK_FS}px ${FONT}`;
      ctx.textBaseline = 'middle';
      ctx.fillText(ph, 3933, ky + ks / 2);
    });
  }, []);
  return <canvas ref={ref} width={4096} height={2560} style={{ position: 'absolute', left: 0, top: 0, width: 4096, height: 2560, pointerEvents: 'none' }} />;
}

export default function App() {
  return (
    <div style={{ position: 'absolute', left: 0, top: 0, width: 4096, height: 2560, background: '#FFFFFF', overflow: 'hidden' }}>
      <Overlay />
      {panelNames.map((_, p) => <Panel key={p} p={p} />)}
    </div>
  );
}
